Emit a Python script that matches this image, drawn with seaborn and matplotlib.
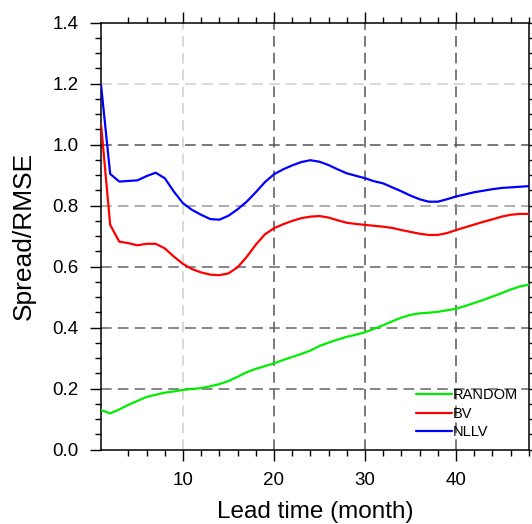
import numpy as np
import pandas as pd
import matplotlib
matplotlib.use("Agg")
import matplotlib.pyplot as plt
import seaborn as sns
from matplotlib.ticker import FixedLocator, MultipleLocator
from matplotlib.lines import Line2D

lead = list(range(1, 49))
random_vals = [0.130, 0.119, 0.132, 0.147, 0.160, 0.173, 0.180, 0.187, 0.191, 0.196,
               0.199, 0.202, 0.208, 0.215, 0.225, 0.239, 0.254, 0.265, 0.274, 0.283,
               0.294, 0.304, 0.314, 0.325, 0.340, 0.351, 0.361, 0.370, 0.377, 0.385,
               0.396, 0.408, 0.421, 0.433, 0.442, 0.447, 0.449, 0.452, 0.457, 0.462,
               0.471, 0.481, 0.491, 0.502, 0.513, 0.525, 0.535, 0.541]
bv_vals = [1.065, 0.737, 0.682, 0.677, 0.670, 0.675, 0.675, 0.660, 0.633, 0.609,
           0.592, 0.581, 0.574, 0.572, 0.578, 0.598, 0.632, 0.672, 0.706, 0.726,
           0.739, 0.750, 0.759, 0.764, 0.766, 0.761, 0.752, 0.744, 0.740, 0.737,
           0.734, 0.731, 0.727, 0.720, 0.714, 0.708, 0.704, 0.704, 0.710, 0.720,
           0.729, 0.738, 0.747, 0.755, 0.764, 0.770, 0.773, 0.773]
nllv_vals = [1.195, 0.904, 0.879, 0.881, 0.883, 0.897, 0.908, 0.890, 0.846, 0.808,
             0.786, 0.770, 0.756, 0.754, 0.767, 0.788, 0.813, 0.844, 0.877, 0.903,
             0.919, 0.932, 0.943, 0.949, 0.944, 0.933, 0.919, 0.906, 0.898, 0.890,
             0.880, 0.873, 0.860, 0.847, 0.833, 0.821, 0.813, 0.813, 0.821, 0.830,
             0.837, 0.844, 0.849, 0.854, 0.858, 0.860, 0.862, 0.864]
series_names = ["RANDOM", "BV", "NLLV"]
series_colors = ["#00ee00", "#ff0000", "#0000ff"]
x_ticks = [10, 20, 30, 40]
y_ticks = [0.0, 0.2, 0.4, 0.6, 0.8, 1.0, 1.2, 1.4]

df = pd.DataFrame({
    "lead": lead * 3,
    "value": random_vals + bv_vals + nllv_vals,
    "exp": [series_names[0]] * 48 + [series_names[1]] * 48 + [series_names[2]] * 48,
})

sns.set_style("ticks")
plt.rcParams["font.family"] = ["Liberation Sans", "DejaVu Sans"]
plt.rcParams["text.color"] = "black"
plt.rcParams["axes.labelcolor"] = "black"
plt.rcParams["xtick.color"] = "black"
plt.rcParams["ytick.color"] = "black"

fig = plt.figure(figsize=(5.32, 5.24), dpi=100)
ax = fig.add_axes([0.19, 0.1418, 0.804, 0.815])

# grid lines (dashed, varying grey like the reference)
vgrid_colors = {10: "#d0d0d0", 20: "#555555", 30: "#555555", 40: "#555555"}
hgrid_colors = {0.2: "#666666", 0.4: "#666666", 0.6: "#666666", 0.8: "#999999",
                1.0: "#555555", 1.2: "#d0d0d0"}
for xv, c in vgrid_colors.items():
    ax.axvline(xv, color=c, lw=1.1, ls=(0, (7, 4)), zorder=0)
for yv, c in hgrid_colors.items():
    ax.axhline(yv, color=c, lw=1.1, ls=(0, (7, 4)), zorder=0)

sns.lineplot(data=df, x="lead", y="value", hue="exp", hue_order=series_names,
             palette=series_colors, linewidth=1.6, ax=ax, legend=False, zorder=3)

ax.set_xlim(1, 48)
ax.set_ylim(0, 1.4)
ax.set_xticks(x_ticks)
ax.set_yticks(y_ticks)
ax.set_yticklabels([f"{v:.1f}" for v in y_ticks])
ax.xaxis.set_minor_locator(FixedLocator([v for v in range(4, 49, 2) if v % 10 != 0]))
ax.yaxis.set_minor_locator(MultipleLocator(0.05))
ax.tick_params(which="both", direction="out", top=True, right=True,
               labeltop=False, labelright=False, color="black", width=1.0,
               labelcolor="black")
ax.tick_params(which="major", length=8, labelsize=13.5, pad=8)
ax.tick_params(which="minor", length=4.5)
for s in ax.spines.values():
    s.set_linewidth(1.1)
    s.set_color("black")

ax.set_xlabel("Lead time (month)", fontsize=17.5, labelpad=9, color="black")
ax.set_ylabel("Spread/RMSE", fontsize=19, labelpad=12, color="black")

handles = [Line2D([0], [0], color=c, lw=1.6) for c in series_colors]
ax.legend(handles, series_names, loc="center left", bbox_to_anchor=(0.736, 0.0843),
          frameon=False, fontsize=10.5, handlelength=2.45, handletextpad=0.05,
          labelspacing=0.3, borderpad=0, borderaxespad=0)

fig.savefig("out.png", dpi=100)
